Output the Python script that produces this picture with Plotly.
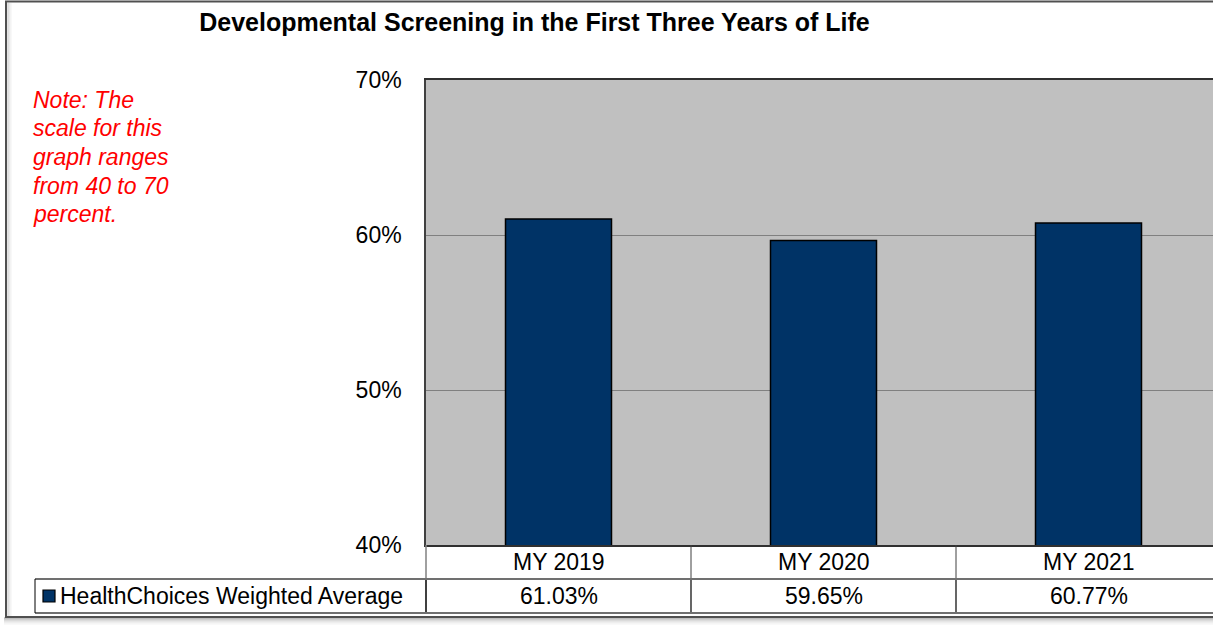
import plotly.graph_objects as go

# ---- data ----
categories = ["MY 2019", "MY 2020", "MY 2021"]
values = [61.03, 59.65, 60.77]
series_name = "HealthChoices Weighted Average"
y_ticks = [40, 50, 60, 70]
y_tick_labels = ["40%", "50%", "60%", "70%"]
title_text = "Developmental Screening in the First Three Years of Life"
note_lines = ["Note: The", "scale for this", "graph ranges", "from 40 to 70", "percent."]

# ---- layout geometry (pixels) ----
W, H = 1213, 625
PL, PR, PT, PB = 426, 1213, 80, 545
COLW = 265.0
x_range = [-0.5, -0.5 + (PR - PL) / COLW]

def px2x(px):
    return (px - PL) / (PR - PL)

def py2y(py):
    return (PB - py) / (PB - PT)

def cat2x(c):
    return (c - x_range[0]) / (x_range[1] - x_range[0])

FONT = "Liberation Sans, Arial, sans-serif"
FS = 23

fig = go.Figure(
    go.Bar(
        x=categories,
        y=values,
        width=0.4,
        marker=dict(color="#003366", line=dict(color="black", width=1.5)),
        name=series_name,
        showlegend=False,
        hoverinfo="skip",
    )
)

shapes = []
annotations = []

# header row labels and values row
ROW1_Y, ROW2_Y, ROW_SEP, ROW_BOT = 562, 596, 579, 613
for i, (c, v) in enumerate(zip(categories, values)):
    annotations.append(dict(x=c, xref="x", y=py2y(ROW1_Y), yref="paper", text=c,
                            showarrow=False, xanchor="center", yanchor="middle",
                            font=dict(family=FONT, size=FS, color="black")))
    annotations.append(dict(x=c, xref="x", y=py2y(ROW2_Y), yref="paper", text=f"{v:.2f}%",
                            showarrow=False, xanchor="center", yanchor="middle",
                            font=dict(family=FONT, size=FS, color="black")))

# column dividers
for i in range(len(categories) - 1):
    xb = cat2x(i + 0.5)
    shapes.append(dict(type="line", xref="paper", yref="paper", x0=xb, x1=xb,
                       y0=py2y(PB), y1=py2y(ROW_SEP), line=dict(color="#404040", width=1)))
    shapes.append(dict(type="line", xref="paper", yref="paper", x0=xb, x1=xb,
                       y0=py2y(ROW_SEP), y1=py2y(ROW_BOT), line=dict(color="black", width=1.2)))

# left border of table (continuation of plot left edge)
shapes.append(dict(type="line", xref="paper", yref="paper", x0=0, x1=0,
                   y0=py2y(PB), y1=py2y(ROW_SEP), line=dict(color="#808080", width=1.5)))
shapes.append(dict(type="line", xref="paper", yref="paper", x0=0, x1=0,
                   y0=py2y(ROW_SEP), y1=py2y(ROW_BOT), line=dict(color="black", width=1.5)))

# horizontal lines of the values row
shapes.append(dict(type="line", xref="paper", yref="paper", x0=px2x(35), x1=px2x(1240),
                   y0=py2y(ROW_SEP), y1=py2y(ROW_SEP), line=dict(color="#707070", width=2)))
shapes.append(dict(type="line", xref="paper", yref="paper", x0=px2x(35), x1=px2x(1240),
                   y0=py2y(ROW_BOT), y1=py2y(ROW_BOT), line=dict(color="#707070", width=2)))
# legend cell left border
shapes.append(dict(type="line", xref="paper", yref="paper", x0=px2x(35), x1=px2x(35),
                   y0=py2y(ROW_SEP), y1=py2y(ROW_BOT), line=dict(color="black", width=1)))

# legend key
shapes.append(dict(type="rect", xref="paper", yref="paper", x0=px2x(43), x1=px2x(55),
                   y0=py2y(590), y1=py2y(602), fillcolor="#003366",
                   line=dict(color="black", width=1.2)))
annotations.append(dict(x=px2x(58), xref="paper", y=py2y(ROW2_Y), yref="paper",
                        text=series_name, showarrow=False, xanchor="left", yanchor="middle",
                        font=dict(family=FONT, size=FS, color="black")))

# outer chart border + shadow
shadow = ["#9a9a9a", "#b0b0b0", "#c4c4c4", "#d4d4d4", "#e2e2e2", "#ececec", "#f4f4f4"]
for k, col in enumerate(shadow):
    yy = 618 + k
    shapes.append(dict(type="line", xref="paper", yref="paper", x0=px2x(4), x1=px2x(1240),
                       y0=py2y(yy), y1=py2y(yy), line=dict(color=col, width=1)))
inner = ["#c8c8c8", "#dadada", "#e8e8e8", "#f2f2f2"]
for k, col in enumerate(inner):
    xx = 8 + k
    shapes.append(dict(type="line", xref="paper", yref="paper", x0=px2x(xx), x1=px2x(xx),
                       y0=py2y(3), y1=py2y(616), line=dict(color=col, width=1)))
shapes.append(dict(type="rect", xref="paper", yref="paper", x0=px2x(6), x1=px2x(1240),
                   y0=py2y(1.5), y1=py2y(617), line=dict(color="#505050", width=2)))

# note text, one annotation per line
NOTE_Y0, NOTE_DY = 100, 28.5
for k, line in enumerate(note_lines):
    annotations.append(dict(x=px2x(31), xref="paper", y=py2y(NOTE_Y0 + k * NOTE_DY), yref="paper",
                            text="<i>" + line + "</i>",
                            showarrow=False, xanchor="left", yanchor="middle", align="left",
                            font=dict(family=FONT, size=FS, color="#FF0000")))

fig.update_layout(
    width=W, height=H,
    margin=dict(l=PL, r=W - PR, t=PT, b=H - PB, autoexpand=False),
    paper_bgcolor="white",
    plot_bgcolor="#C0C0C0",
    title=dict(text="<b>" + title_text + "</b>", x=534.5 / W, xref="container", xanchor="center",
               y=1 - 22 / H, yref="container", yanchor="middle",
               font=dict(family=FONT, size=25, color="black")),
    xaxis=dict(type="category", range=x_range, showticklabels=False, ticks="",
               showline=True, linecolor="#303030", linewidth=1.5, mirror=True,
               showgrid=False, zeroline=False, fixedrange=True),
    yaxis=dict(range=[40, 70], tickmode="array", tickvals=y_ticks, ticktext=y_tick_labels,
               ticks="", showline=True, linecolor="#404040", linewidth=1.5,
               gridcolor="#808080", gridwidth=1.2, zeroline=False,
               ticklabelstandoff=18,
               tickfont=dict(family=FONT, size=FS, color="black"), fixedrange=True),
    shapes=shapes,
    annotations=annotations,
    showlegend=False,
    bargap=0.6,
)

fig.write_html(
    "out.html",
    config={"displayModeBar": False},
    post_script="document.body.style.margin='0';document.body.style.overflow='hidden';",
)
